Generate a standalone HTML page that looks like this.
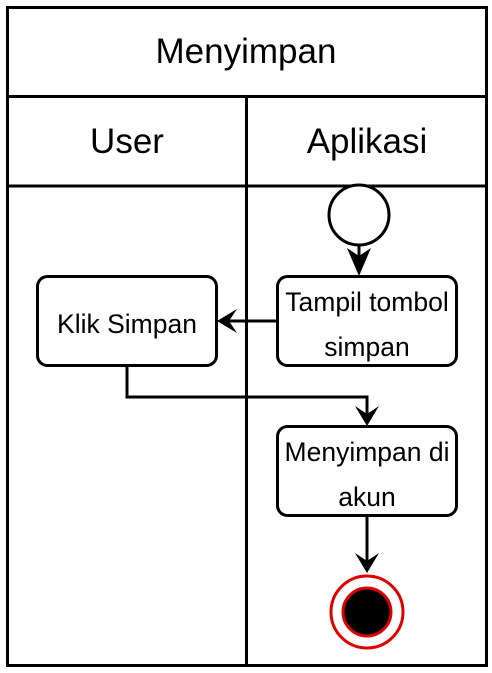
<!DOCTYPE html>
<html><head><style>
html,body{margin:0;padding:0;background:#fff;}
svg{display:block;}
text{font-family:"Liberation Sans",Arial,sans-serif;fill:#000;}
</style></head><body>
<svg width="492" height="673" viewBox="0 0 492 673" xmlns="http://www.w3.org/2000/svg">
<rect x="7.5" y="7.5" width="479" height="658" fill="#fff" stroke="#000" stroke-width="3"/>
<line x1="7" y1="96.5" x2="487" y2="96.5" stroke="#000" stroke-width="3"/>
<line x1="7" y1="186" x2="487" y2="186" stroke="#000" stroke-width="3"/>
<line x1="246.5" y1="96" x2="246.5" y2="666" stroke="#000" stroke-width="3"/>
<text x="246" y="63" font-size="35" text-anchor="middle">Menyimpan</text>
<text x="127" y="153" font-size="35" text-anchor="middle">User</text>
<text x="367" y="153" font-size="35" text-anchor="middle">Aplikasi</text>
<circle cx="359" cy="215" r="30" fill="#fff" stroke="#000" stroke-width="3"/>
<line x1="359" y1="245" x2="359" y2="266" stroke="#000" stroke-width="3"/>
<polygon points="347,248 359,256 371,248 359,276" fill="#000"/>
<rect x="277.5" y="276.5" width="179" height="89" rx="10" fill="#fff" stroke="#000" stroke-width="3"/>
<text x="367" y="311" font-size="26.5" text-anchor="middle">Tampil tombol</text>
<text x="367" y="356" font-size="26.5" text-anchor="middle">simpan</text>
<rect x="37.5" y="276.5" width="179" height="89" rx="10" fill="#fff" stroke="#000" stroke-width="3"/>
<text x="127" y="333" font-size="26.5" text-anchor="middle">Klik Simpan</text>
<line x1="277" y1="321" x2="228" y2="321" stroke="#000" stroke-width="3"/>
<polygon points="237,309 229,321 237,333 217,321" fill="#000"/>
<polyline points="127,366 127,397 367,397 367,416" fill="none" stroke="#000" stroke-width="3"/>
<polygon points="355,406 367,414 379,406 367,426" fill="#000"/>
<rect x="277.5" y="426.5" width="179" height="89" rx="10" fill="#fff" stroke="#000" stroke-width="3"/>
<text x="367" y="461" font-size="26.5" text-anchor="middle">Menyimpan di</text>
<text x="367" y="506" font-size="26.5" text-anchor="middle">akun</text>
<line x1="367" y1="516" x2="367" y2="563" stroke="#000" stroke-width="3"/>
<polygon points="355,553 367,561 379,553 367,573" fill="#000"/>
<circle cx="367" cy="612" r="36" fill="#fff" stroke="#e00000" stroke-width="3"/>
<circle cx="367" cy="612" r="24" fill="#000" stroke="#e00000" stroke-width="3"/>
</svg>
</body></html>
